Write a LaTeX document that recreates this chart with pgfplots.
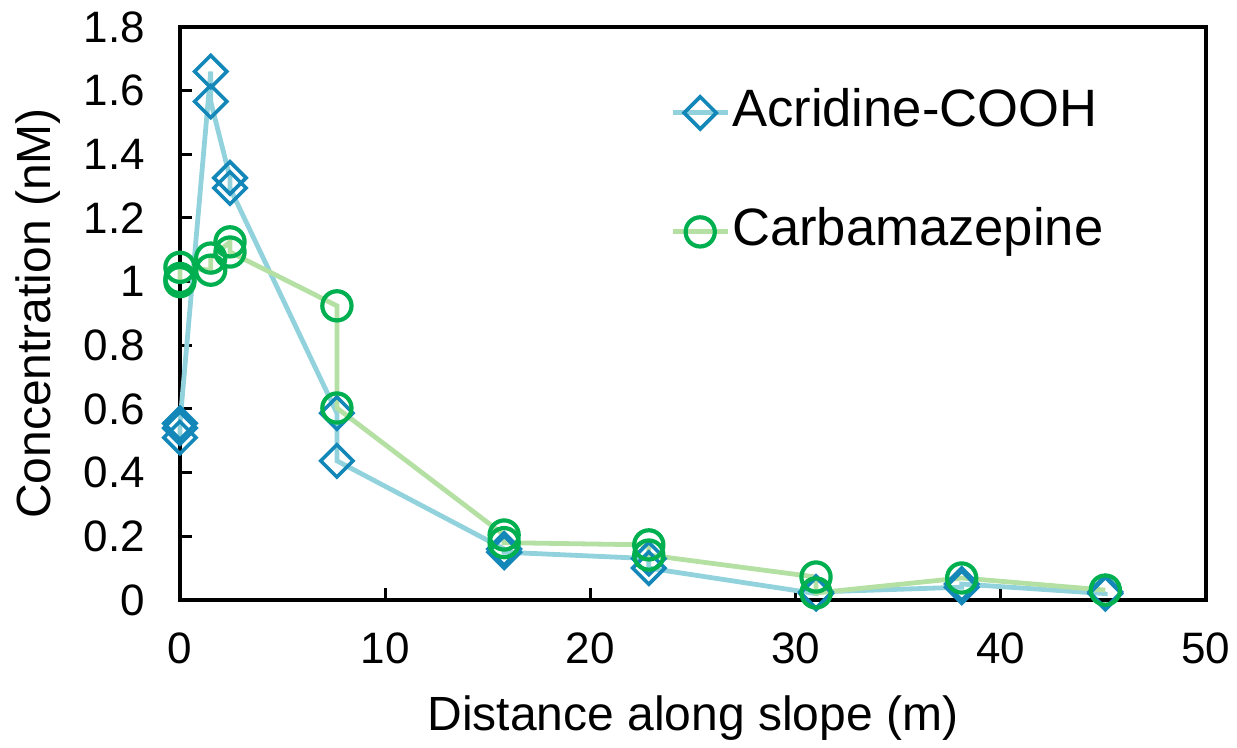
\documentclass[border=0pt]{standalone}
\usepackage{pgfplots}
\pgfplotsset{compat=1.18}
\usepackage{fontspec}
\setmainfont{Liberation Sans}
\definecolor{acrM}{HTML}{1388B8}
\definecolor{acrL}{HTML}{92D2DD}
\definecolor{carM}{HTML}{00B050}
\definecolor{carL}{HTML}{B5E0A3}
\begin{document}
\begin{tikzpicture}
\begin{axis}[
  scale only axis, width=513pt, height=286.5pt,
  xmin=0, xmax=50, ymin=0, ymax=1.8,
  xtick={0,10,20,30,40,50},
  ytick={0,0.2,0.4,0.6,0.8,1,1.2,1.4,1.6,1.8},
  yticklabels={0,0.2,0.4,0.6,0.8,1,1.2,1.4,1.6,1.8},
  tick align=inside, tick pos=left, major tick length=6pt,
  tick style={line width=1.5pt, black},
  axis line style={line width=2.2pt},
  clip=false,
  /pgf/number format/assume math mode=true,
  ticklabel style={font=\fontsize{22}{26}\selectfont},
  yticklabel style={xshift=-14pt},
  xticklabel style={yshift=-13pt},
  xlabel={Distance along slope (m)},
  ylabel={Concentration (nM)},
  label style={font=\fontsize{24}{28}\selectfont},
  xlabel style={at={(axis description cs:0.5,-0.206)}, anchor=center},
  ylabel style={at={(axis description cs:-0.138,0.5)}, anchor=center},
  legend image code/.code={\draw[mark repeat=2,mark phase=2,#1] plot coordinates {(0pt,0pt)(13.75pt,0pt)(27.5pt,0pt)};},
  legend style={at={(axis description cs:0.4776,0.897)}, anchor=north west,
    draw=none, fill=none, inner sep=0pt, row sep=33pt,
    font=\fontsize{26.3}{30}\selectfont,
    nodes={inner sep=1pt, text height=19pt, text depth=5.5pt}},
  legend cell align=left,
]
\addplot[color=acrL, line width=2.4pt, mark=square, mark size=5.7pt,
  mark options={draw=acrM, fill=white, line width=1.8pt, rotate=45}]
  coordinates {
  (0,0.51) (0,0.54) (0,0.555)
  (1.5,1.66) (1.5,1.566)
  (2.44,1.326) (2.44,1.294)
  (7.65,0.587) (7.65,0.437)
  (15.8,0.16) (15.8,0.15)
  (22.85,0.13) (22.85,0.10)
  (31,0.02) (31,0.025)
  (38.1,0.04) (38.1,0.05)
  (45.1,0.02) (45.1,0.025)
  };
\addlegendentry{Acridine-COOH}
\addplot[color=carL, line width=2.4pt, mark=o, mark size=7.3pt,
  mark options={draw=carM, fill=white, line width=2.1pt}]
  coordinates {
  (0,1.0) (0,1.01) (0,1.045)
  (1.5,1.036) (1.5,1.074)
  (2.44,1.125) (2.44,1.093)
  (7.65,0.924) (7.65,0.603)
  (15.8,0.204) (15.8,0.18)
  (22.85,0.173) (22.85,0.141)
  (31,0.072) (31,0.022)
  (38.1,0.069)
  (45.1,0.031)
  };
\addlegendentry{Carbamazepine}
\path (rel axis cs:-0.1754,-0.2583) rectangle (rel axis cs:1.0302,1.0471);
\end{axis}
\end{tikzpicture}
\end{document}
